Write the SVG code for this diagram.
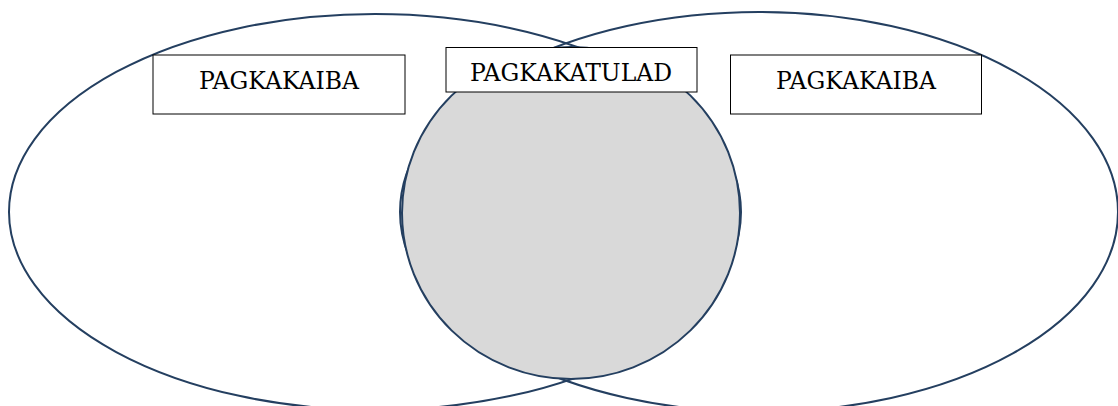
<svg xmlns="http://www.w3.org/2000/svg" width="1118" height="406" viewBox="0 0 1118 406">
<style>
.ring{fill:none;stroke:#243f60;stroke-width:2}
.box{fill:#ffffff;stroke:#000000;stroke-width:1}
.lbl{font-family:"DejaVu Serif","Liberation Serif",serif;font-size:23.5px;fill:#000000;text-anchor:middle}
</style>
<rect width="1118" height="406" fill="#ffffff"/>
<g id="left-set"><ellipse class="ring" cx="375" cy="212" rx="366" ry="198"/></g>
<g id="right-set"><ellipse class="ring" cx="759" cy="212" rx="359" ry="200"/></g>
<g id="overlap"><ellipse cx="571" cy="213" rx="169" ry="166" fill="#d9d9d9" stroke="#243f60" stroke-width="2"/></g>
<g id="connectors"></g>
<g id="label-left"><rect class="box" x="153" y="55" width="252" height="59"/><text class="lbl" x="279" y="88.5">PAGKAKAIBA</text></g>
<g id="label-middle"><rect class="box" x="446" y="47.5" width="251" height="44.5"/><text class="lbl" x="571" y="80.5">PAGKAKATULAD</text></g>
<g id="label-right"><rect class="box" x="730.5" y="55" width="251" height="59"/><text class="lbl" x="856" y="88.5">PAGKAKAIBA</text></g>
</svg>
